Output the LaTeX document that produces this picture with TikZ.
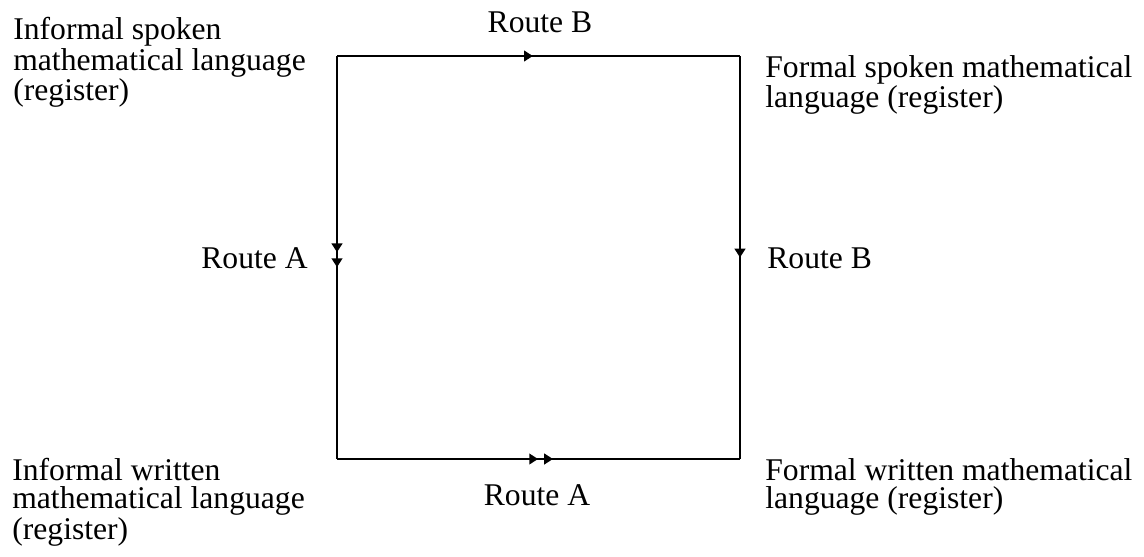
\documentclass[tikz,border=0pt]{standalone}
\usepackage{fontspec}
\setmainfont{Liberation Serif}
\usetikzlibrary{arrows.meta,decorations.markings,positioning}

\begin{document}
\begin{tikzpicture}[x=0.02cm,y=-0.02cm,
  lbl/.style={inner sep=0pt,align=left,font=\fontsize{18}{16}\selectfont},
  edge/.style={line width=1.3pt},
  onetip/.style={postaction={decorate},decoration={markings,
    mark=at position #1 with {\arrow{Triangle[length=5pt,width=6pt]}}}},
  twotips/.style={postaction={decorate},decoration={markings,
    mark=at position #1 with {\arrow{Triangle[length=5pt,width=6pt,sep=3.5pt] Triangle[length=5pt,width=6pt]}}}}]
\useasboundingbox (0,0) rectangle (1144,556);

% corners of the square
\coordinate (tl) at (337,56);
\coordinate (tr) at (740,56);
\coordinate (bl) at (337,459);
\coordinate (br) at (740,459);

\draw[edge,onetip=0.486] (tl)--(tr);
\draw[edge,onetip=0.5] (tr)--(br);
\draw[edge,twotips=0.524] (tl)--(bl);
\draw[edge,twotips=0.536] (bl)--(br);

% registers
\node[lbl,anchor=north west] (infspoken) at (13,17) {Informal spoken\\mathematical language\\(register)};
\node[lbl,anchor=north west] (formspoken) at (765,55) {Formal spoken mathematical\\language (register)};
\node[lbl,anchor=north west] (infwritten) at (12,458) {Informal written\\mathematical language\\(register)};
\node[lbl,anchor=north west] (formwritten) at (765,458) {Formal written mathematical\\language (register)};

% routes
\node[lbl,anchor=south] (routeBtop) at (540,33) {Route B};
\node[lbl,anchor=west] (routeBright) at (767,258) {Route B};
\node[lbl,anchor=east] (routeAleft) at (308,258) {Route A};
\node[lbl] (routeAbot) at (537,495) {Route A};

\end{tikzpicture}
\end{document}
